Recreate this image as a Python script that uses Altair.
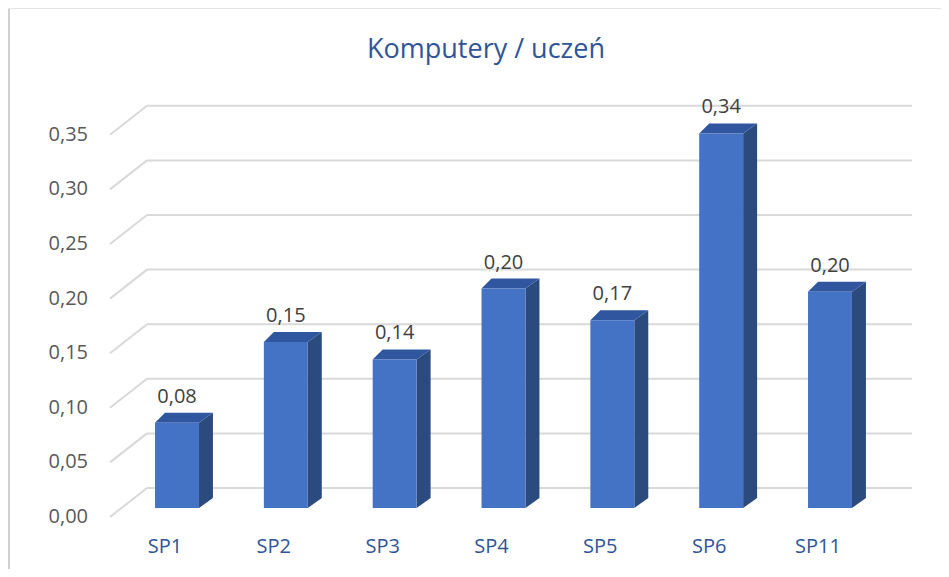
import altair as alt
import pandas as pd

# ---- data ----
categories = ["SP1", "SP2", "SP3", "SP4", "SP5", "SP6", "SP11"]
values = [0.078, 0.152, 0.136, 0.201, 0.172, 0.343, 0.198]
value_labels = ["0,08", "0,15", "0,14", "0,20", "0,17", "0,34", "0,20"]
tick_values = [0.00, 0.05, 0.10, 0.15, 0.20, 0.25, 0.30, 0.35]
tick_labels = ["0,00", "0,05", "0,10", "0,15", "0,20", "0,25", "0,30", "0,35"]
title_text = "Komputery / uczeń"

# ---- style / geometry constants (pseudo-3D) ----
FONT = "Open Sans"
PX_PER_X = 109.0      # pixels per category step
PX_PER_Y = 1092.0     # pixels per value unit
HALF_W = 22 / PX_PER_X
DX_R = 14 / PX_PER_X  # depth offset, right edge
DX_L = 10 / PX_PER_X  # depth offset, left edge of top face
DY = 10 / PX_PER_Y    # depth offset vertical
BACK = 20 / PX_PER_Y  # back wall offset
FRONT = 9 / PX_PER_Y  # front plane offset

xs = alt.Scale(domain=[0, 6], range=[169, 822], nice=False, zero=False)
ys = alt.Scale(domain=[0, 0.35], range=[500, 500 - 0.35 * PX_PER_Y], nice=False, zero=False)

idx = list(range(len(categories)))
bars = pd.DataFrame({"cat": categories, "i": idx, "v": values, "lab": value_labels})
bars["x0"] = bars["i"] - HALF_W
bars["x1"] = bars["i"] + HALF_W

side_rows, top_rows = [], []
for c, i, v in zip(categories, idx, values):
    side_rows.append({"cat": c, "x": i + HALF_W, "y": v, "y2": 0.0})
    side_rows.append({"cat": c, "x": i + HALF_W + DX_R, "y": v + DY, "y2": DY})
    top_rows.append({"cat": c, "y": v, "x": i - HALF_W, "x2": i + HALF_W})
    top_rows.append({"cat": c, "y": v + DY, "x": i - HALF_W + DX_L, "x2": i + HALF_W + DX_R})
side = pd.DataFrame(side_rows)
top = pd.DataFrame(top_rows)

ticks = pd.DataFrame({"v": tick_values, "lab": tick_labels})
ticks["yf"] = ticks["v"] - FRONT
ticks["yb"] = ticks["v"] + BACK

GRID = "#D9D9D9"

back_grid = alt.Chart(ticks).mark_rule(color=GRID, strokeWidth=2).encode(
    y=alt.Y("yb:Q", scale=ys, axis=None),
    x=alt.value(139), x2=alt.value(904),
)
diag_grid = alt.Chart(ticks).mark_rule(color=GRID, strokeWidth=2).encode(
    y=alt.Y("yf:Q", scale=ys, axis=None),
    y2="yb:Q",
    x=alt.value(102), x2=alt.value(139),
)
ylabels = alt.Chart(ticks).mark_text(
    align="right", baseline="middle", font=FONT, fontSize=20, color="#595959"
).encode(
    y=alt.Y("yf:Q", scale=ys, axis=None),
    x=alt.value(80),
    text="lab:N",
)

side_faces = alt.Chart(side).mark_area(color="#2B4A7E", interpolate="linear").encode(
    x=alt.X("x:Q", scale=xs, axis=None),
    y=alt.Y("y:Q", scale=ys, axis=None, stack=None),
    y2="y2:Q",
    detail="cat:N",
)
top_faces = alt.Chart(top).mark_area(color="#3056A0", orient="horizontal", interpolate="linear").encode(
    y=alt.Y("y:Q", scale=ys, axis=None),
    x=alt.X("x:Q", scale=xs, axis=None, stack=None),
    x2="x2:Q",
    detail="cat:N",
)
front_faces = alt.Chart(bars).mark_rect(color="#4472C4").encode(
    x=alt.X("x0:Q", scale=xs, axis=None),
    x2="x1:Q",
    y=alt.Y("v:Q", scale=ys, axis=None),
    y2=alt.datum(0),
)
value_text = alt.Chart(bars).mark_text(
    baseline="middle", align="center", font=FONT, fontSize=20, color="#404040", yOffset=-26
).encode(
    x=alt.X("i:Q", scale=xs, axis=None),
    y=alt.Y("v:Q", scale=ys, axis=None),
    text="lab:N",
)
cat_text = alt.Chart(bars).mark_text(
    baseline="middle", align="center", font=FONT, fontSize=20, color="#2F5597", xOffset=-12
).encode(
    x=alt.X("i:Q", scale=xs, axis=None),
    y=alt.value(539),
    text="cat:N",
)
title = alt.Chart(pd.DataFrame({"t": [title_text]})).mark_text(
    baseline="middle", align="center", font=FONT, fontSize=27, color="#2F5597"
).encode(x=alt.value(478), y=alt.value(42), text="t:N")

frame_left = alt.Chart(pd.DataFrame({"a": [0]})).mark_rule(color="#D0D0D0", strokeWidth=2).encode(
    x=alt.value(1), y=alt.value(0), y2=alt.value(561)
)
frame_top = alt.Chart(pd.DataFrame({"a": [0]})).mark_rule(color="#E4E4E4", strokeWidth=1).encode(
    x=alt.value(0), x2=alt.value(933), y=alt.value(0.5)
)

chart = alt.layer(
    frame_left, frame_top, back_grid, diag_grid, ylabels,
    side_faces, top_faces, front_faces, value_text, cat_text, title,
).properties(
    width=933, height=561, padding=0,
    autosize=alt.AutoSizeParams(type="none"),
    background="white",
).configure_view(stroke=None)

chart.save("out.html", embed_options={"renderer": "svg", "actions": False})
